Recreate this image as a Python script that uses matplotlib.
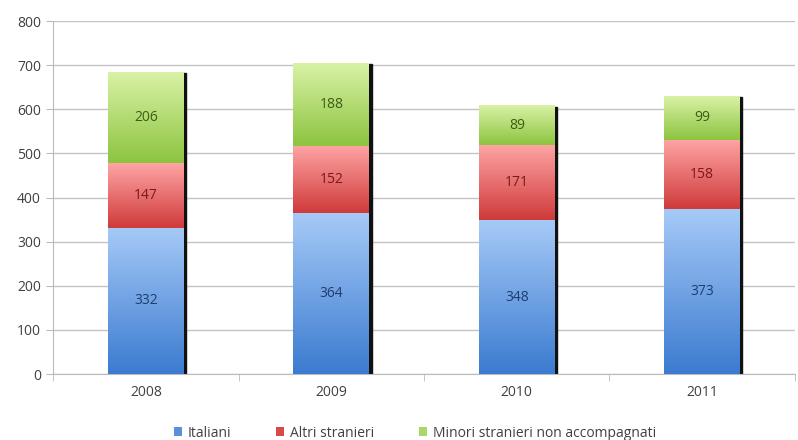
import numpy as np
import matplotlib
matplotlib.use("Agg")
import matplotlib.pyplot as plt
from matplotlib.colors import LinearSegmentedColormap
from matplotlib.patches import Rectangle, Patch

plt.rcParams['font.family'] = ['Open Sans', 'DejaVu Sans']

anni = ['2008', '2009', '2010', '2011']
italiani = [332, 364, 348, 373]
altri = [147, 152, 171, 158]
minori = [206, 188, 89, 99]
serie = ['Italiani', 'Altri stranieri', 'Minori stranieri non accompagnati']

# light (top) -> dark (bottom) for each series
sfumature = [('#a6caf7', '#3b7bd0'), ('#ffa5a5', '#cf3a3a'), ('#d9f2a6', '#8cc43f')]
colori_testo = ['#1f3d6e', '#7a1a1a', '#3c5e14']
colori_legenda = ['#5b8fd8', '#d84a4a', '#a8d86a']

fig = plt.figure(figsize=(7.98, 4.40), dpi=100)
ax = fig.add_axes([0.067, 0.15, 0.929, 0.802])

x = np.arange(len(anni))
w = 0.41
ax.set_xlim(-0.5, len(anni) - 0.5)
ax.set_ylim(0, 800)

basi = np.zeros(len(anni))
for k, valori in enumerate([italiani, altri, minori]):
    cmap = LinearSegmentedColormap.from_list('g%d' % k, [sfumature[k][1], sfumature[k][0]])
    grad = np.linspace(0, 1, 256).reshape(-1, 1)
    for i, v in enumerate(valori):
        b = basi[i]
        ax.imshow(grad, cmap=cmap, aspect='auto', origin='lower',
                  extent=(x[i] - w / 2, x[i] + w / 2, b, b + v), zorder=3)
        ax.text(x[i], b + v / 2, str(v), ha='center', va='center',
                fontsize=10, color=colori_testo[k], zorder=5)
    basi += np.array(valori)

# dark shadow along the right edge of each stack
for i in range(len(anni)):
    ax.add_patch(Rectangle((x[i] + w / 2 - 0.004, 0), 0.016, basi[i] - 2,
                           color='#111111', zorder=2))

ax.set_yticks(range(0, 801, 100))
ax.yaxis.grid(True, color='#c4c4c4', linewidth=1)
ax.set_axisbelow(True)
ax.set_xticks(x)
ax.set_xticklabels(anni)
ax.set_xticks(np.arange(-0.5, len(anni), 1), minor=True)
ax.tick_params(axis='x', which='major', length=0, pad=8)
ax.tick_params(axis='x', which='minor', length=5, color='#bbbbbb')
ax.tick_params(axis='y', length=5, color='#bbbbbb', pad=4)
ax.tick_params(labelsize=10, labelcolor='#404040')
for s in ['top', 'right']:
    ax.spines[s].set_visible(False)
for s in ['left', 'bottom']:
    ax.spines[s].set_color('#bbbbbb')

handles = [Patch(facecolor=c, label=l) for c, l in zip(colori_legenda, serie)]
fig.legend(handles=handles, loc='lower center', bbox_to_anchor=(0.52, -0.03),
           ncol=3, frameon=False, fontsize=10, handlelength=0.6, handleheight=0.6,
           columnspacing=3.2, handletextpad=0.4, labelcolor='#404040')

fig.savefig('out.png', dpi=100)
